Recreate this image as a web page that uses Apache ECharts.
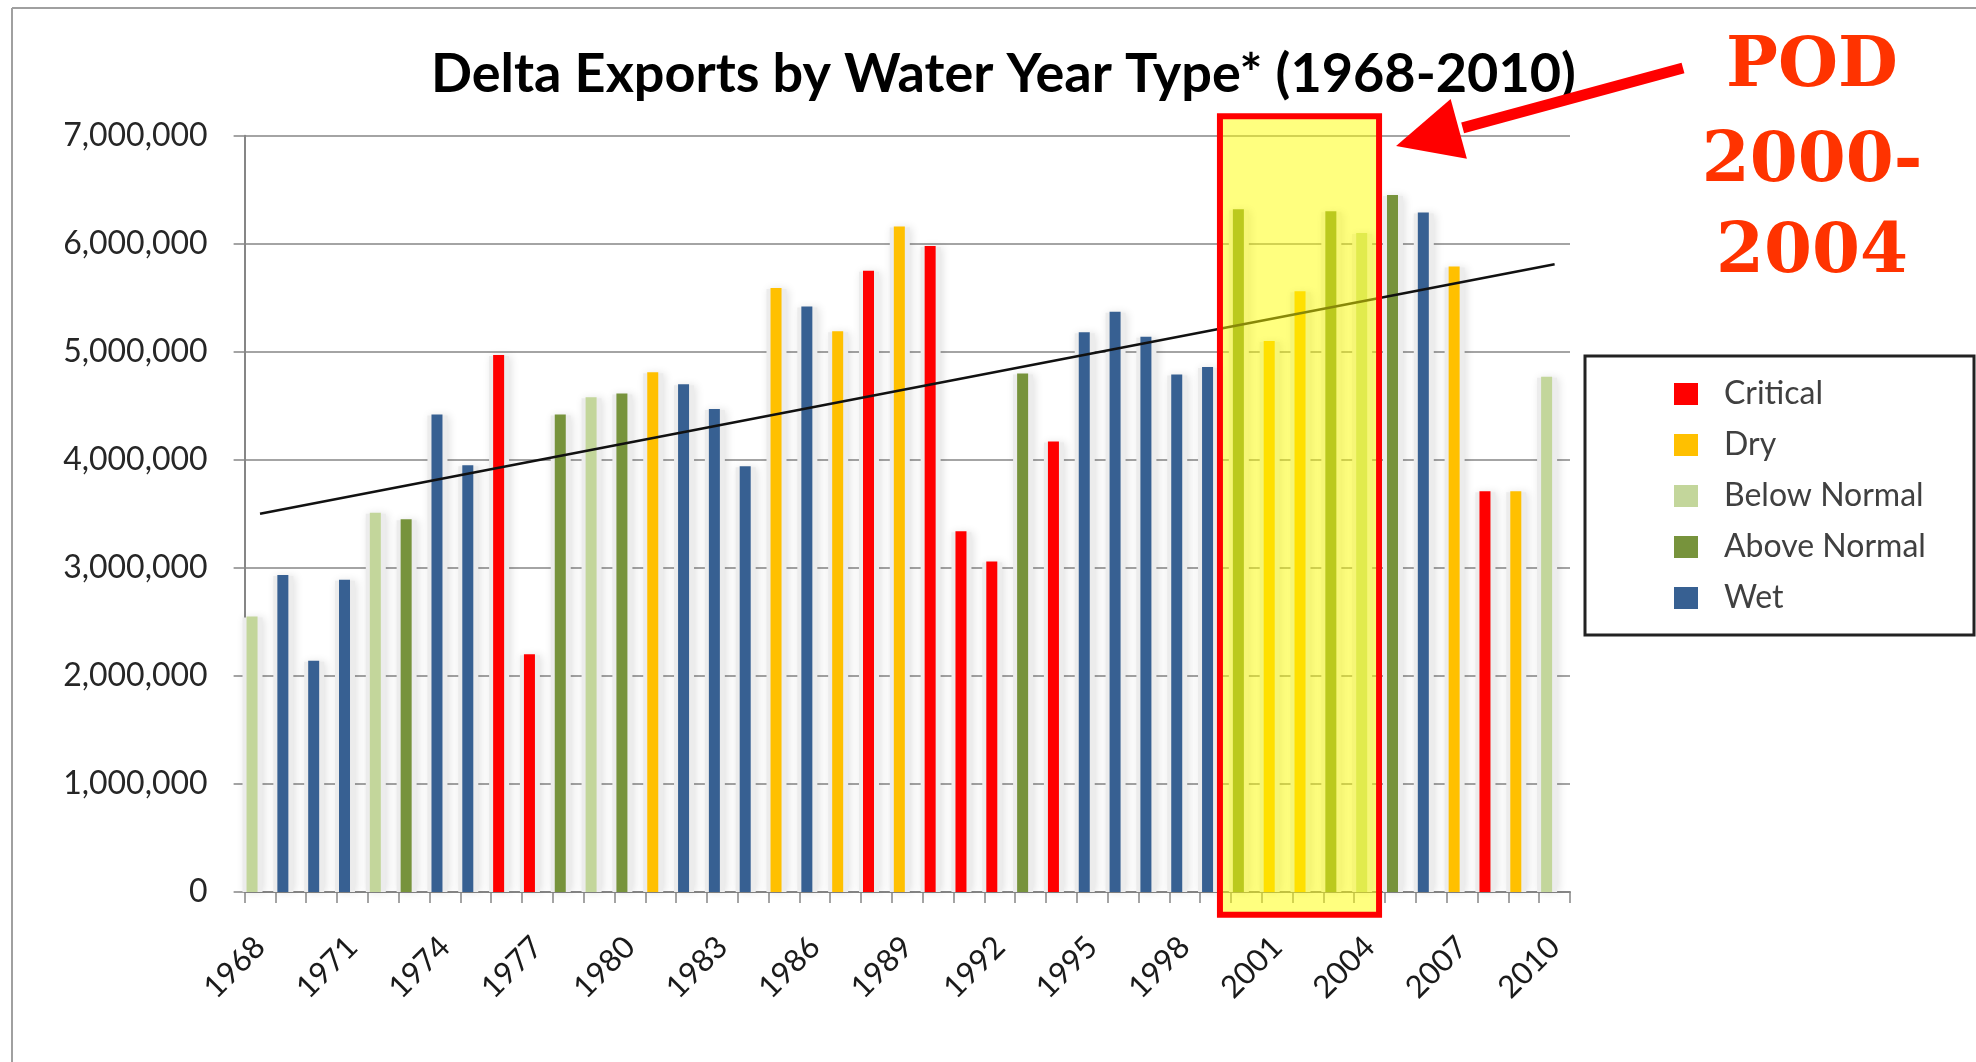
<!DOCTYPE html>
<html>
<head>
<meta charset="utf-8">
<title>Delta Exports by Water Year Type</title>
<script src="https://cdn.jsdelivr.net/npm/echarts@6/dist/echarts.min.js"></script>
<style>
html, body { margin: 0; padding: 0; background: #fff; }
#chartmain { width: 1976px; height: 1062px; }
</style>
</head>
<body>
<div id="chartmain"></div>
<script>
// water years on the x axis
var years = ['1968', '1969', '1970', '1971', '1972', '1973', '1974', '1975', '1976', '1977',
    '1978', '1979', '1980', '1981', '1982', '1983', '1984', '1985', '1986', '1987',
    '1988', '1989', '1990', '1991', '1992', '1993', '1994', '1995', '1996', '1997',
    '1998', '1999', '2000', '2001', '2002', '2003', '2004', '2005', '2006', '2007',
    '2008', '2009', '2010'];

// water year type of each year (C, D, BN, AN, W)
var yearTypes = ['BN', 'W', 'W', 'W', 'BN', 'AN', 'W', 'W', 'C', 'C',
    'AN', 'BN', 'AN', 'D', 'W', 'W', 'W', 'D', 'W', 'D',
    'C', 'D', 'C', 'C', 'C', 'AN', 'C', 'W', 'W', 'W',
    'W', 'W', 'AN', 'D', 'D', 'AN', 'BN', 'AN', 'W', 'D',
    'C', 'D', 'BN'];

// delta exports (acre-feet)
var exportsAF = [2550000, 2935000, 2140000, 2890000, 3510000, 3450000, 4420000, 3950000, 4970000, 2200000,
    4420000, 4580000, 4615000, 4810000, 4700000, 4470000, 3940000, 5590000, 5420000, 5190000,
    5750000, 6160000, 5980000, 3340000, 3060000, 4800000, 4170000, 5180000, 5370000, 5140000,
    4790000, 4860000, 6320000, 5100000, 5560000, 6300000, 6100000, 6450000, 6290000, 5790000,
    3710000, 3710000, 4770000];

// legend order
var typeCodes = ['C', 'D', 'BN', 'AN', 'W'];
var typeNames = ['Critical', 'Dry', 'Below Normal', 'Above Normal', 'Wet'];
var typeColors = ['#FF0000', '#FFC000', '#C3D69B', '#77933C', '#376092'];

// linear trend line end points (first and last year)
var trendStart = 3500000;
var trendEnd = 5810000;

// highlighted POD period
var podFrom = '2000';
var podTo = '2004';

var myChart = echarts.init(document.getElementById('chartmain'));

var barW = 11;
var barShift = -8;   // bars sit a bit left of the category centre

var series = [];
// light grey halo behind each bar (excel shadow), hides the gridlines there
series.push({
    name: 'halo',
    type: 'custom',
    z: 1,
    silent: true,
    data: exportsAF.map(function (v, i) { return [i, v]; }),
    renderItem: function (params, api) {
        var top = api.coord([api.value(0), api.value(1)]);
        var base = api.coord([api.value(0), 0]);
        return {
            type: 'rect',
            shape: { x: top[0] + barShift - barW / 2 - 4, y: top[1] + 1, width: barW + 9, height: base[1] - top[1] - 1 },
            style: { fill: '#ececec', shadowColor: 'rgba(0,0,0,0.12)', shadowBlur: 8, shadowOffsetX: 2 }
        };
    }
});
for (var k = 0; k < typeCodes.length; k++) {
    series.push({
        name: typeNames[k],
        type: 'bar',
        stack: 'exports',
        barWidth: barW,
        barGap: '45%',
        z: 3,
        itemStyle: { color: typeColors[k] },
        data: exportsAF.map(function (v, i) { return yearTypes[i] === typeCodes[k] ? v : '-'; })
    });
}
// empty slot so bars sit left of the category centre like the original
series.push({ name: 'pad', type: 'bar', barWidth: barW, barGap: '45%', data: [] });

var trendData = years.map(function (y, i) {
    if (i === 0) return trendStart;
    if (i === years.length - 1) return trendEnd;
    return '-';
});
series.push({
    name: 'trend',
    type: 'line',
    data: trendData,
    connectNulls: true,
    showSymbol: false,
    symbol: 'none',
    z: 5,
    lineStyle: { color: '#111', width: 2.5 }
});

var option = {
    animation: false,
    backgroundColor: '#fff',
    title: {
        text: 'Delta Exports by Water Year Type* (1968-2010)',
        left: 426,
        top: 43,
        textStyle: { fontFamily: 'Lato', fontWeight: 'bold', fontSize: 54, color: '#000' }
    },
    legend: {
        data: typeNames,
        orient: 'vertical',
        left: 1669,
        top: 373,
        icon: 'rect',
        itemWidth: 24,
        itemHeight: 22,
        itemGap: 19,
        textStyle: { fontFamily: 'Lato', fontSize: 32, color: '#404040', padding: [0, 0, 0, 21] }
    },
    grid: { left: 244.6, right: 406, top: 135.7, bottom: 170, containLabel: false },
    xAxis: {
        type: 'category',
        data: years,
        boundaryGap: true,
        axisLine: { lineStyle: { color: '#868686', width: 2 } },
        axisTick: { show: true, interval: 0, length: 11, lineStyle: { color: '#868686', width: 1.5 } },
        axisLabel: {
            interval: 2,
            rotate: 45,
            margin: 50,
            fontFamily: 'Lato',
            fontSize: 31,
            color: '#1a1a1a'
        },
        splitLine: { show: false }
    },
    yAxis: {
        type: 'value',
        min: 0,
        max: 7000000,
        interval: 1000000,
        axisLine: { show: true, lineStyle: { color: '#868686', width: 2 } },
        axisTick: { show: true, length: 11, lineStyle: { color: '#868686', width: 1.5 } },
        axisLabel: {
            margin: 37,
            fontFamily: 'Lato',
            fontSize: 32,
            color: '#262626',
            formatter: function (v) { return v === 0 ? '0' : v.toLocaleString('en-US'); }
        },
        splitLine: { show: true, lineStyle: { color: '#868686', width: 1.5 } }
    },
    series: series
};
myChart.setOption(option);

// POD highlight box, arrow and label
var c0 = myChart.convertToPixel({ xAxisIndex: 0 }, podFrom);
var c1 = myChart.convertToPixel({ xAxisIndex: 0 }, podTo);
var band = myChart.convertToPixel({ xAxisIndex: 0 }, years[1]) - myChart.convertToPixel({ xAxisIndex: 0 }, years[0]);
var y0 = myChart.convertToPixel({ yAxisIndex: 0 }, 0);
var y7 = myChart.convertToPixel({ yAxisIndex: 0 }, 7000000);
var perUnit = (y0 - y7) / 7000000;
var boxL = c0 - band / 2 - 11;
var boxR = c1 + band / 2 - 6;
var boxT = y0 - 7180000 * perUnit;
var boxB = y0 + 210000 * perUnit;

var tail = [1683, 68];
var tip = [boxR + 17, 146];
var dx = tip[0] - tail[0], dy = tip[1] - tail[1];
var len = Math.sqrt(dx * dx + dy * dy);
var ux = dx / len, uy = dy / len;
var headLen = 65, headHalf = 31;
var back = [tip[0] - ux * headLen, tip[1] - uy * headLen];

var podFont = 'bold 69px "DejaVu Serif"';
myChart.setOption({
    graphic: [
        // page frame
        { type: 'line', shape: { x1: 12, y1: 8, x2: 12, y2: 1062 }, style: { stroke: '#a0a0a0', lineWidth: 2 }, z: 1 },
        { type: 'line', shape: { x1: 12, y1: 8, x2: 1976, y2: 8 }, style: { stroke: '#a0a0a0', lineWidth: 2 }, z: 1 },
        // legend frame
        { type: 'rect', shape: { x: 1585, y: 356, width: 389, height: 279 }, style: { fill: null, stroke: '#222', lineWidth: 3 }, z: 1 },
        // yellow highlight
        { type: 'rect', shape: { x: boxL, y: boxT, width: boxR - boxL, height: boxB - boxT },
          style: { fill: 'rgba(255,255,0,0.5)' }, z: 50 },
        { type: 'rect', shape: { x: boxL, y: boxT, width: boxR - boxL, height: boxB - boxT },
          style: { fill: null, stroke: '#FF0000', lineWidth: 6 }, z: 51 },
        // arrow
        { type: 'line', shape: { x1: tail[0], y1: tail[1], x2: back[0] - ux * 4, y2: back[1] - uy * 4 },
          style: { stroke: '#FF0000', lineWidth: 11 }, z: 52 },
        { type: 'polygon', shape: { points: [tip,
            [back[0] - uy * headHalf, back[1] + ux * headHalf],
            [back[0] + uy * headHalf, back[1] - ux * headHalf]] },
          style: { fill: '#FF0000' }, z: 52 },
        // POD label
        { type: 'text', x: 1812, y: 68, z: 53,
          style: { text: 'POD', fill: '#FF3300', font: podFont, align: 'center', verticalAlign: 'middle' } },
        { type: 'text', x: 1812, y: 163, z: 53,
          style: { text: '2000-', fill: '#FF3300', font: podFont, align: 'center', verticalAlign: 'middle' } },
        { type: 'text', x: 1812, y: 254, z: 53,
          style: { text: '2004', fill: '#FF3300', font: podFont, align: 'center', verticalAlign: 'middle' } }
    ]
});
</script>
</body>
</html>
